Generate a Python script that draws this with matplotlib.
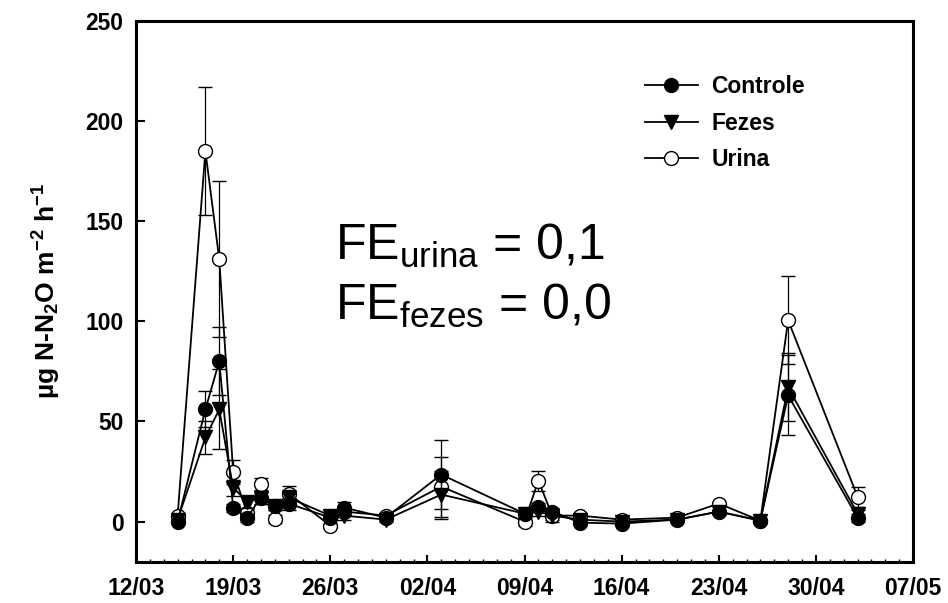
import matplotlib
matplotlib.use("Agg")
import matplotlib.pyplot as plt
import matplotlib.dates as mdates
from matplotlib.lines import Line2D
import pandas as pd

plt.rcParams["font.family"] = ["Liberation Sans", "DejaVu Sans"]
plt.rcParams["mathtext.fontset"] = "custom"
plt.rcParams["mathtext.rm"] = "Liberation Sans"
plt.rcParams["mathtext.it"] = "Liberation Sans"
plt.rcParams["mathtext.bf"] = "Liberation Sans:bold"

# datas de coleta (dia/mês)
datas = ["15/03", "17/03", "18/03", "19/03", "20/03", "21/03", "22/03", "23/03",
         "26/03", "27/03", "30/03", "03/04", "09/04", "10/04", "11/04", "13/04",
         "16/04", "20/04", "23/04", "26/04", "28/04", "03/05"]

controle = [0, 56, 80, 7, 2, 12, 8, 9, 2, 7, 2, 23.5, 4, 7.5, 5, -0.5, -1, 1, 5, 0.5, 63, 2]
fezes = [1, 42, 56, 17, 10, 12, 8, 12, 3, 3, 1, 13.5, 4, 5, 3, 1, 0, 1, 5, 0.5, 67, 4]
urina = [3, 185, 131, 25, 4.5, 19, 1.5, 14, -2, 5, 3, 17.5, 0, 20.5, 3, 3, 1, 2, 9, 0.5, 100.5, 12.5]

erro_controle = [0.5, 9, 17, 2, 2, 3, 2, 3, 1, 3, 1, 17, 1, 2, 2, 1, 1, 1, 1, 1, 20, 2]
erro_fezes = [0.5, 8, 20, 4, 3, 3, 2, 4, 1, 2, 1, 12, 1, 2, 3, 1, 1, 1, 1, 1, 17, 2]
erro_urina = [0.5, 32, 39, 6, 2, 3, 2, 4, 1, 2, 1, 15, 2, 5, 2, 1, 1, 1, 1, 1, 22, 5]

rotulos_x = ["12/03", "19/03", "26/03", "02/04", "09/04", "16/04", "23/04", "30/04", "07/05"]

ano = "2010"
x = pd.to_datetime([d + "/" + ano for d in datas], format="%d/%m/%Y")
ticks_x = pd.to_datetime([d + "/" + ano for d in rotulos_x], format="%d/%m/%Y")

fig = plt.figure(figsize=(9.48, 6.03), dpi=100)
ax = fig.add_axes([136 / 948, 1 - 561.7 / 603, 777 / 948, 541 / 603])

estilo = dict(color="k", lw=1.3, ms=10, mec="k", mew=1.0,
              ecolor="k", elinewidth=0.9, capsize=5, capthick=0.9)

ax.errorbar(x, urina, yerr=erro_urina, marker="o", mfc="white", zorder=2, **estilo)
ax.errorbar(x, fezes, yerr=erro_fezes, marker="v", mfc="k", zorder=3, **estilo)
ax.errorbar(x, controle, yerr=erro_controle, marker="o", mfc="k", zorder=4, **estilo)

ax.set_xlim(ticks_x[0], ticks_x[-1])
ax.set_ylim(-20, 250)
ax.set_xticks(ticks_x)
ax.set_xticklabels(rotulos_x)
ax.xaxis.set_minor_locator(mdates.DayLocator())
ax.set_yticks([0, 50, 100, 150, 200, 250])

for s in ax.spines.values():
    s.set_linewidth(2.2)
ax.tick_params(axis="both", which="major", direction="in", width=1.5, labelsize=16.5)
ax.tick_params(axis="x", which="major", length=5, pad=11)
ax.tick_params(axis="y", which="major", length=6.5, pad=9)
ax.tick_params(axis="x", which="minor", direction="in", length=2, width=1)
for lab in ax.get_xticklabels() + ax.get_yticklabels():
    lab.set_fontweight("bold")

ax.set_ylabel(r"µg N-N$_{\mathbf{2}}$O m$^{\mathbf{-2}}$ h$^{\mathbf{-1}}$",
              fontsize=19, fontweight="bold", labelpad=16)

ax.text(0.256, 0.558, r"FE$_{\mathrm{urina}}$ = 0,1", transform=ax.transAxes,
        fontsize=36, ha="left", va="baseline")
ax.text(0.256, 0.447, r"FE$_{\mathrm{fezes}}$ = 0,0", transform=ax.transAxes,
        fontsize=36, ha="left", va="baseline")

h_c = Line2D([], [], color="k", lw=1.3, marker="o", ms=10, mfc="k", mec="k")
h_f = Line2D([], [], color="k", lw=1.3, marker="v", ms=10, mfc="k", mec="k")
h_u = Line2D([], [], color="k", lw=1.3, marker="o", ms=10, mfc="white", mec="k")
ax.legend([h_c, h_f, h_u], ["Controle", "Fezes", "Urina"],
          loc="upper left", bbox_to_anchor=(0.655, 0.90), frameon=False,
          borderpad=0, borderaxespad=0, handlelength=2.3, handletextpad=0.6,
          labelspacing=0.6, prop={"size": 16.5, "weight": "bold"})

fig.savefig("out.png", dpi=100)
